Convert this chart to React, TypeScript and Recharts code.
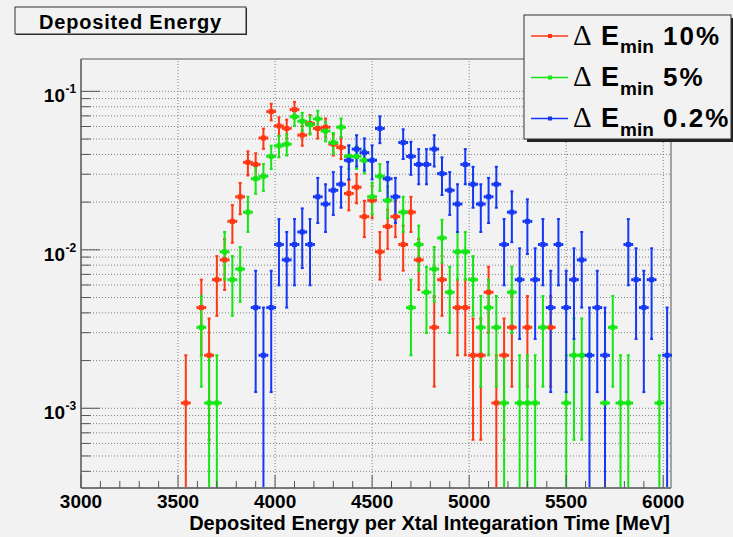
import {
  ComposedChart,
  ErrorBar,
  ReferenceArea,
  ReferenceLine,
  Scatter,
  XAxis,
  YAxis,
} from "recharts";

// 40 MeV bins, centre of each bin
const binCentres = [
  3540, 3580, 3620, 3660, 3700, 3740, 3780, 3820, 3860, 3900, 3940, 3980, 4020,
  4060, 4100, 4140, 4180, 4220, 4260, 4300, 4340, 4380, 4420, 4460, 4500, 4540,
  4580, 4620, 4660, 4700, 4740, 4780, 4820, 4860, 4900, 4940, 4980, 5020, 5060,
  5100, 5140, 5180, 5220, 5260, 5300, 5340, 5380, 5420, 5460, 5500, 5540, 5580,
  5620, 5660, 5700, 5740, 5780, 5820, 5860, 5900, 5940, 5980, 6020,
];

// entries per bin
const countsDE10 = [
  1, 0, 4, 2, 6, 8, 14, 20, 33, 32, 47, 69, 56, 54, 71, 49, 58, 54, 55, 43, 41,
  21, 23, 15, 19, 9, 13, 15, 10, 16, 8, 0, 3, 6, 0, 4, 4, 2, 2, 5, 1, 2, 3, 0, 3,
  0, 0, 3, 0, 0, 0, 0, 0, 0, 0, 0, 0, 0, 0, 0, 0, 0, 0,
];
const countsDE5 = [
  0, 0, 3, 1, 1, 9, 6, 7, 16, 26, 27, 36, 42, 43, 64, 60, 57, 62, 52, 44, 55, 36,
  36, 34, 20, 27, 19, 0, 16, 4, 10, 5, 7, 11, 5, 9, 9, 6, 3, 4, 3, 1, 5, 1, 1, 1,
  3, 0, 0, 1, 2, 2, 0, 0, 1, 3, 1, 1, 0, 0, 0, 1, 0,
];
const countsDE02 = [
  0, 0, 0, 0, 0, 0, 0, 0, 0, 2, 1, 2, 5, 4, 5, 6, 5, 10, 9, 11, 12, 17, 20, 19,
  17, 27, 13, 10, 22, 18, 16, 16, 20, 14, 11, 9, 16, 12, 9, 10, 12, 5, 8, 3, 7,
  3, 5, 2, 5, 2, 3, 4, 1, 2, 1, 0, 0, 5, 3, 2, 3, 0, 1,
];

// normalisation of one entry
const entryWeight = 1.08e-3;
const entryWeightFine = 2.16e-3;

const xTicks = [
  3000, 3100, 3200, 3300, 3400, 3500, 3600, 3700, 3800, 3900, 4000, 4100, 4200,
  4300, 4400, 4500, 4600, 4700, 4800, 4900, 5000, 5100, 5200, 5300, 5400, 5500,
  5600, 5700, 5800, 5900, 6000,
];
const xGrid = [3500, 4000, 4500, 5000, 5500, 6000];
const yTicks = [
  4e-4, 5e-4, 6e-4, 7e-4, 8e-4, 9e-4, 1e-3, 2e-3, 3e-3, 4e-3, 5e-3, 6e-3, 7e-3,
  8e-3, 9e-3, 1e-2, 2e-2, 3e-2, 4e-2, 5e-2, 6e-2, 7e-2, 8e-2, 9e-2, 1e-1,
];

const X_MIN = 3000;
const X_MAX = 6040;
const Y_MIN = 3.14e-4;
const Y_MAX = 0.16;

const RED = "#ff3814";
const GREEN = "#14e614";
const BLUE = "#1438f5";
const BG = "#f2f2f2";
const FONT = "'Liberation Sans', Arial, Helvetica, sans-serif";

const toPoints = (counts: number[], weight: number) =>
  binCentres
    .map((e, i) => ({ e, n: counts[i] }))
    .filter((p) => p.n > 0)
    .map((p) => {
      const v = p.n * weight;
      const err = Math.sqrt(p.n) * weight;
      // a lower edge at zero cannot sit on a log axis; stop it at the frame
      return { e: p.e, v, ey: [Math.min(err, v - Y_MIN), err], ex: 20 };
    });

const series = [
  { name: "de10", color: RED, data: toPoints(countsDE10, entryWeight) },
  { name: "de5", color: GREEN, data: toPoints(countsDE5, entryWeight) },
  { name: "de02", color: BLUE, data: toPoints(countsDE02, entryWeightFine) },
];

const marker = (color: string) => (props: any) =>
  props.cx == null ? <g /> : (
    <rect
      x={props.cx - 2.5}
      y={props.cy - 2.5}
      width={5}
      height={5}
      fill={color}
    />
  );

const XTick = ({ x, y, payload }: any) => {
  const major = payload.value % 500 === 0;
  return (
    <g>
      <line
        x1={x}
        x2={x}
        y1={y}
        y2={y - (major ? 13 : 7)}
        stroke="#555"
        strokeWidth={1}
      />
      {major && (
        <text
          x={x}
          y={y + 20}
          textAnchor="middle"
          fontFamily={FONT}
          fontWeight="bold"
          fontSize={19}
          fill="#000"
        >
          {payload.value}
        </text>
      )}
    </g>
  );
};

const YTick = ({ x, y, payload }: any) => {
  const lg = Math.log10(payload.value);
  const decade = Math.abs(lg - Math.round(lg)) < 1e-6;
  return (
    <g>
      <line
        x1={x}
        x2={x + (decade ? 19 : 9.5)}
        y1={y}
        y2={y}
        stroke="#555"
        strokeWidth={1}
      />
      {decade && (
        <g fontFamily={FONT} fontWeight="bold" fill="#000">
          <text x={x - 16} y={y + 11} textAnchor="end" fontSize={19}>
            10
          </text>
          <text x={x - 15.5} y={y + 2} fontSize={12}>
            {Math.round(lg)}
          </text>
        </g>
      )}
    </g>
  );
};

const legendRows = [
  { color: RED, label: "10%", y: 36 },
  { color: GREEN, label: "5%", y: 77.5 },
  { color: BLUE, label: "0.2%", y: 118.5 },
];

const Overlay = () => (
  <svg
    width={733}
    height={537}
    style={{ position: "absolute", left: 0, top: 0, pointerEvents: "none" }}
  >
    {/* title pave */}
    <rect x={16} y={8} width={231} height={27} fill="#222" />
    <rect x={15} y={7} width={231} height={27} fill={BG} stroke="#333" />
    <text
      x={130.5}
      y={29}
      textAnchor="middle"
      fontFamily={FONT}
      fontWeight="bold"
      fontSize={20}
      letterSpacing={0.8}
    >
      Deposited Energy
    </text>

    {/* legend */}
    <rect x={527} y={18} width={207} height={124} fill="#222" />
    <rect x={524} y={15} width={207} height={124} fill={BG} stroke="#333" />
    {legendRows.map((r) => (
      <g key={r.label}>
        <line x1={531} x2={568} y1={r.y} y2={r.y} stroke={r.color} strokeWidth={1.5} />
        <rect x={548} y={r.y - 2} width={4} height={4} fill={r.color} />
        <text
          x={573}
          y={r.y + 8.7}
          fontFamily="'Liberation Serif', 'Times New Roman', serif"
          fontSize={29}
        >
          Δ
        </text>
        <text
          x={601}
          y={r.y + 8.7}
          fontFamily={FONT}
          fontWeight="bold"
          fontSize={27}
        >
          E
        </text>
        <text
          x={620}
          y={r.y + 17.3}
          fontFamily={FONT}
          fontWeight="bold"
          fontSize={19}
        >
          min
        </text>
        <text
          x={663}
          y={r.y + 8.7}
          fontFamily={FONT}
          fontWeight="bold"
          fontSize={26}
          letterSpacing={2}
        >
          {r.label}
        </text>
      </g>
    ))}

    {/* x axis title */}
    <text
      x={670}
      y={530}
      textAnchor="end"
      fontFamily={FONT}
      fontWeight="bold"
      fontSize={20}
    >
      Deposited Energy per Xtal Integaration Time [MeV]
    </text>
  </svg>
);

export default function App() {
  return (
    <div
      style={{
        position: "absolute",
        left: 0,
        top: 0,
        width: 733,
        height: 537,
        background: BG,
      }}
    >
      <ComposedChart
        width={733}
        height={537}
        margin={{ top: 59, right: 62, bottom: 19, left: 21 }}
      >
        <XAxis
          dataKey="e"
          type="number"
          domain={[X_MIN, X_MAX]}
          ticks={xTicks}
          interval={0}
          allowDataOverflow
          tickSize={0}
          tickMargin={0}
          tick={<XTick />}
          axisLine={{ stroke: "#777", strokeWidth: 2 }}
          height={30}
        />
        <YAxis
          dataKey="v"
          type="number"
          scale="log"
          domain={[Y_MIN, Y_MAX]}
          ticks={yTicks}
          interval={0}
          allowDataOverflow
          tickSize={0}
          tickMargin={0}
          tick={<YTick />}
          axisLine={{ stroke: "#555" }}
          width={60}
        />
        {yTicks.map((t) => (
          <ReferenceLine
            key={`gy${t}`}
            y={t}
            stroke="#808080"
            strokeDasharray="1 2"
          />
        ))}
        {xGrid.map((t) => (
          <ReferenceLine
            key={`gx${t}`}
            x={t}
            stroke="#808080"
            strokeDasharray="1 2"
          />
        ))}
        <ReferenceArea
          x1={X_MIN}
          x2={X_MAX}
          y1={Y_MIN}
          y2={Y_MAX}
          fill="none"
          fillOpacity={0}
          stroke="#555"
          ifOverflow="visible"
        />
        {series.map((s) => (
          <Scatter
            key={s.name}
            name={s.name}
            data={s.data}
            dataKey="v"
            isAnimationActive={false}
            shape={marker(s.color)}
          >
            <ErrorBar
              dataKey="ey"
              direction="y"
              width={1.5}
              stroke={s.color}
              strokeWidth={2}
              isAnimationActive={false}
            />
            <ErrorBar
              dataKey="ex"
              direction="x"
              width={1.5}
              stroke={s.color}
              strokeWidth={2}
              isAnimationActive={false}
            />
          </Scatter>
        ))}
      </ComposedChart>
      <Overlay />
    </div>
  );
}
